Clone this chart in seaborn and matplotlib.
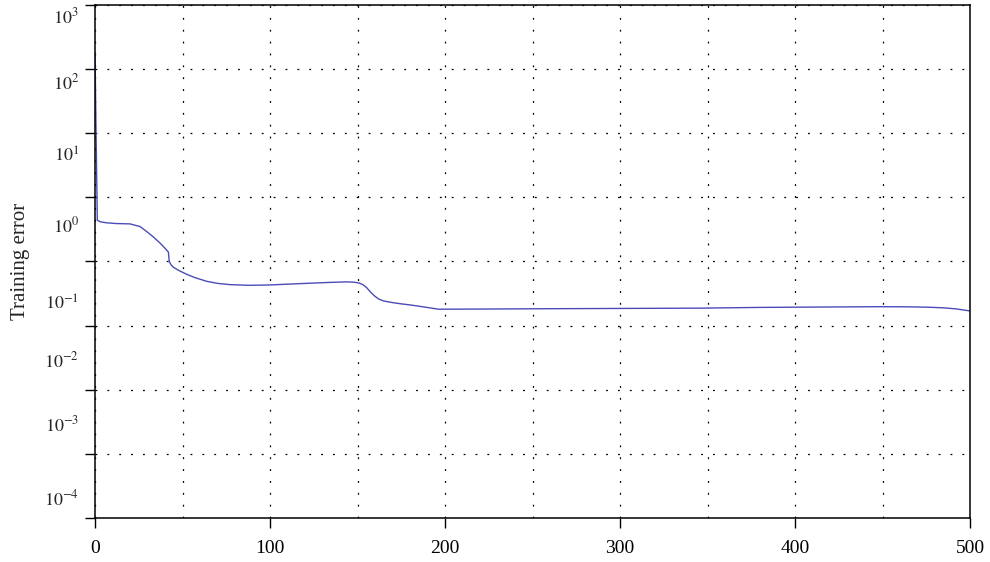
import numpy as np
import pandas as pd
import matplotlib
matplotlib.use('Agg')
import matplotlib.pyplot as plt
import matplotlib.ticker as mticker
import seaborn as sns

# data
epoch = [0, 0.5, 1.3, 3, 6.7, 12, 20, 25.7, 29, 33, 37, 40, 41.9, 42.4, 43.5, 44.8, 48,
         52.4, 57, 63.8, 70, 77, 88, 100, 112, 124.6, 135, 143.8, 148, 151, 153, 155.2,
         157.5, 160, 162, 164.8, 170, 175, 180, 188, 196.2, 220, 254, 300, 345.7, 380,
         420, 448.6, 465, 477, 485, 492, 500]
train_err = [178, 15, 0.44, 0.415, 0.40, 0.39, 0.385, 0.35, 0.30, 0.245, 0.195, 0.16,
             0.14, 0.10, 0.088, 0.081, 0.072, 0.063, 0.056, 0.049, 0.0455, 0.0435,
             0.0425, 0.043, 0.0445, 0.046, 0.0472, 0.048, 0.0475, 0.046, 0.0435, 0.039,
             0.033, 0.0285, 0.026, 0.0242, 0.0228, 0.0218, 0.0210, 0.0195, 0.0180,
             0.0181, 0.0183, 0.0185, 0.0187, 0.0192, 0.0195, 0.0197, 0.0196, 0.0193,
             0.0189, 0.0182, 0.0169]

ytick_text = ['$10^{3}$', '$10^{2}$', '$10^{1}$', '$10^{0}$',
              '$10^{-1}$', '$10^{-2}$', '$10^{-3}$', '$10^{-4}$']
# posisi label (log10) seperti di gambar asli, agak bergeser dari garis grid
ytick_text_pos = [2.84, 1.81, 0.67, -0.42, -1.64, -2.52, -3.52, -4.68]
xticks_major = [0, 100, 200, 300, 400, 500]

df = pd.DataFrame({'epoch': epoch, 'err': train_err})

sns.set_style('ticks')
plt.rcParams['font.family'] = ['Liberation Serif', 'DejaVu Serif']
plt.rcParams['mathtext.fontset'] = 'stix'

fig = plt.figure(figsize=(9.9, 5.62), dpi=100)
ax = fig.add_axes([0.096, 0.0783, 0.884, 0.913])

sns.lineplot(data=df, x='epoch', y='err', ax=ax, color='#4b4bb8', linewidth=1.0)

ax.set_yscale('log')
ax.set_xlim(0, 500)
ax.set_ylim(1e-5, 1e3)

# tick utama y: tiap dekade, tanpa label
ax.yaxis.set_major_locator(mticker.FixedLocator([10.0 ** k for k in range(-5, 4)]))
ax.yaxis.set_major_formatter(mticker.NullFormatter())
ax.yaxis.set_minor_locator(mticker.FixedLocator([10.0 ** p for p in ytick_text_pos]))
ax.yaxis.set_minor_formatter(mticker.FixedFormatter(ytick_text))

ax.xaxis.set_major_locator(mticker.FixedLocator(xticks_major))
ax.xaxis.set_minor_locator(mticker.MultipleLocator(50))

ax.tick_params(axis='both', which='major', direction='out', length=7, width=1.0,
               labelsize=14, colors='black')
ax.tick_params(axis='y', which='minor', length=0, labelsize=13, pad=11.5)
ax.tick_params(axis='x', which='minor', length=0)
ax.tick_params(axis='x', which='major', pad=9)

grid_ls = (0, (1.5, 8))
ax.grid(True, which='major', axis='y', color='black', linestyle=grid_ls, linewidth=0.9)
ax.grid(True, which='both', axis='x', color='black', linestyle=grid_ls, linewidth=0.9)

for s in ax.spines.values():
    s.set_visible(True)
    s.set_color('black')
    s.set_linewidth(1.1)

ax.set_xlabel('')
ax.set_ylabel('Training error', fontsize=15, labelpad=10)

plt.savefig('out.png', dpi=100)
plt.close()
